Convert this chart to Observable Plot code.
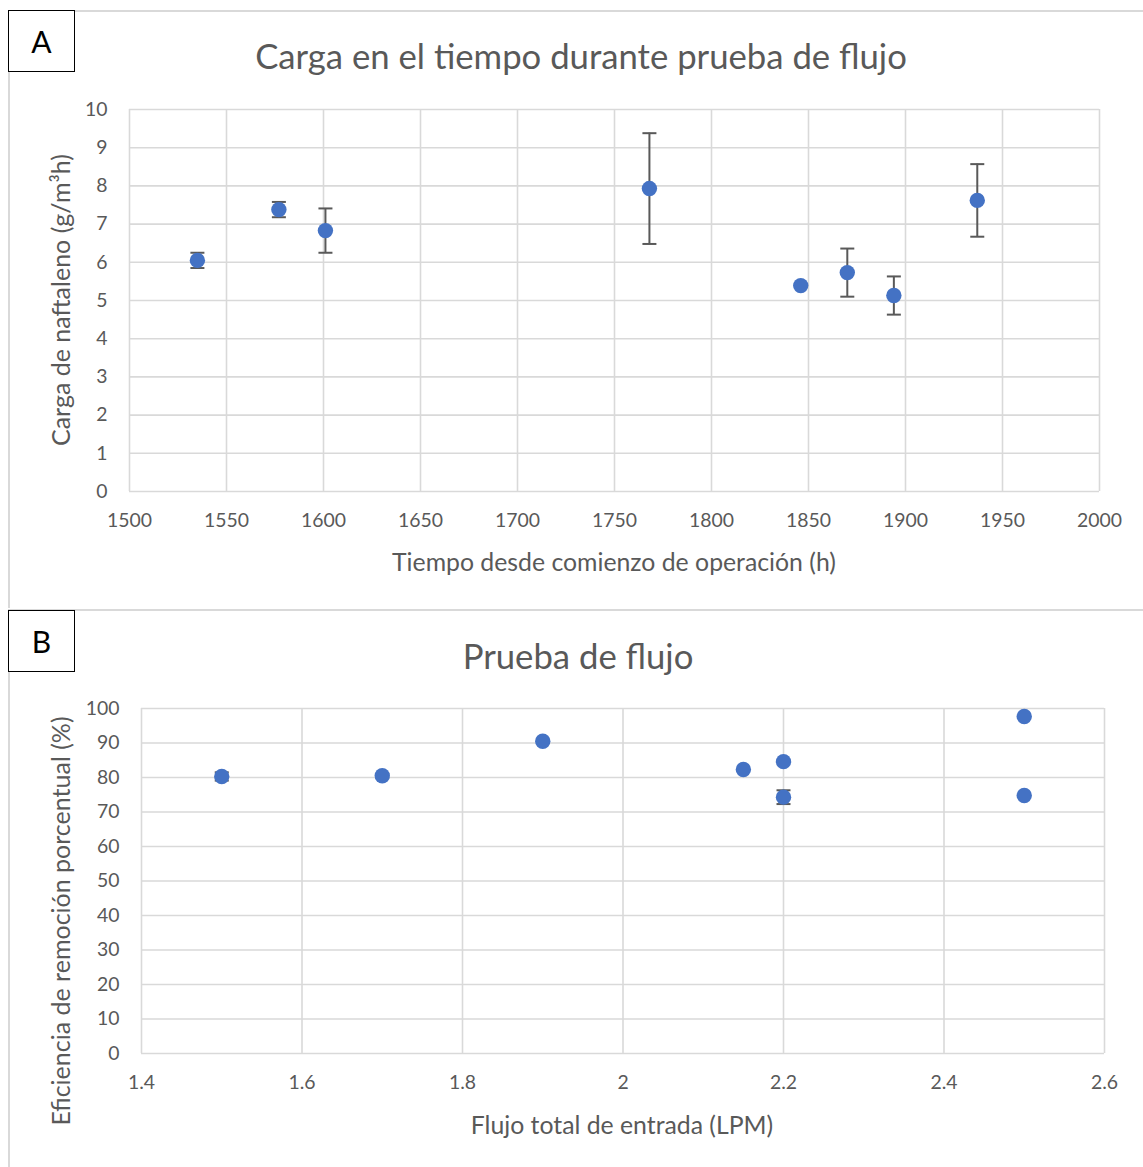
<!DOCTYPE html>
<html><head><meta charset="utf-8">
<script src="https://cdn.jsdelivr.net/npm/d3@7"></script>
<script src="https://cdn.jsdelivr.net/npm/@observablehq/plot@0.6"></script>
<style>
body{margin:0;background:#fff;}
#wrap{position:relative;width:1143px;height:1167px;overflow:hidden;font-family:Lato,"Open Sans",sans-serif;color:#595959;background:#fff;}
.frame{position:absolute;border-left:2px solid #d9d9d9;border-top:2px solid #d9d9d9;box-sizing:border-box;}
.letter{position:absolute;border:1.3px solid #000;background:#fff;color:#000;font-size:30px;display:flex;align-items:center;justify-content:center;box-sizing:border-box;}
.title{position:absolute;font-size:34.7px;white-space:nowrap;transform:translate(-50%,-50%);}
.axt{position:absolute;font-size:24.8px;white-space:nowrap;transform:translate(-50%,-50%);}
.axy{position:absolute;font-size:25px;white-space:nowrap;transform:translate(-50%,-50%) rotate(-90deg);}
svg{position:absolute;}
</style></head><body><div id="wrap"></div>
<script>
// Panel A data
const timeH = [1535, 1577, 1601, 1768, 1846, 1870, 1894, 1937];
const carga = [6.05, 7.38, 6.83, 7.93, 5.39, 5.73, 5.13, 7.62];
const cargaErr = [0.2, 0.2, 0.58, 1.45, 0, 0.63, 0.5, 0.95];
const xTicksA = [1500, 1550, 1600, 1650, 1700, 1750, 1800, 1850, 1900, 1950, 2000];
const yTicksA = [0, 1, 2, 3, 4, 5, 6, 7, 8, 9, 10];
// Panel B data
const flujo = [1.5, 1.7, 1.9, 2.15, 2.2, 2.2, 2.5, 2.5];
const eficiencia = [80.3, 80.5, 90.5, 82.3, 84.6, 74.3, 97.7, 74.8];
const eficienciaErr = [1.2, 0.5, 0, 0, 0, 2, 0, 0];
const xTicksB = [1.4, 1.6, 1.8, 2.0, 2.2, 2.4, 2.6];
const yTicksB = [0, 10, 20, 30, 40, 50, 60, 70, 80, 90, 100];

const wrap = document.getElementById("wrap");
const grid = "#d9d9d9", blue = "#4472C4", err = "#595959";
const cap = {draw(ctx, size) { const h = Math.sqrt(size / Math.PI); ctx.moveTo(-h, 0); ctx.lineTo(h, 0); }};

function el(cls, txt, x, y, w, h) {
  const d = document.createElement("div");
  d.className = cls; d.textContent = txt;
  d.style.left = x + "px"; d.style.top = y + "px";
  if (w != null) { d.style.width = w + "px"; d.style.height = h + "px"; }
  wrap.appendChild(d); return d;
}

// frames
el("frame", "", 8, 10, 1140, 598);
el("frame", "", 8, 609, 1140, 560);

function panel(cfg) {
  const rows = cfg.x.map((x, i) => ({x, y: cfg.y[i], e: cfg.e[i]}));
  const eb = rows.filter(d => d.e > 0);
  const fmt = cfg.fmt;
  const p = Plot.plot({
    width: 1143, height: cfg.height,
    marginTop: cfg.mt, marginBottom: cfg.mb, marginLeft: cfg.ml, marginRight: cfg.mr,
    style: {fontFamily: "Lato, 'Open Sans', sans-serif", fontSize: "19.4px", color: "#595959", background: "transparent"},
    x: {domain: cfg.xd, ticks: cfg.xt, tickFormat: fmt, label: null},
    y: {domain: cfg.yd, ticks: cfg.yt, label: null},
    marks: [
      Plot.gridX(cfg.xt, {stroke: grid, strokeOpacity: 1, strokeWidth: 1.6}),
      Plot.gridY(cfg.yt, {stroke: grid, strokeOpacity: 1, strokeWidth: 1.6}),
      Plot.axisX(cfg.xt, {tickSize: 0, tickPadding: 22, tickFormat: fmt, label: null, fill: "#595959"}),
      Plot.axisY(cfg.yt, {tickSize: 0, tickPadding: 22, label: null, fill: "#595959"}),
      Plot.ruleX(eb, {x: "x", y1: d => d.y - d.e, y2: d => d.y + d.e, stroke: err, strokeWidth: 2}),
      Plot.dot(eb, {x: "x", y: d => d.y - d.e, symbol: cap, r: 7, stroke: err, strokeWidth: 2, fill: "none"}),
      Plot.dot(eb, {x: "x", y: d => d.y + d.e, symbol: cap, r: 7, stroke: err, strokeWidth: 2, fill: "none"}),
      Plot.dot(rows, {x: "x", y: "y", r: 7.7, fill: blue, stroke: "none"})
    ]
  });
  p.style.left = "0px"; p.style.top = cfg.top + "px";
  wrap.appendChild(p);
}

panel({x: timeH, y: carga, e: cargaErr, xd: [1500, 2000], yd: [0, 10], xt: xTicksA, yt: yTicksA,
  top: 90, height: 500, mt: 19, mb: 99, ml: 129, mr: 44, fmt: d => String(d)});
panel({x: flujo, y: eficiencia, e: eficienciaErr, xd: [1.4, 2.6], yd: [0, 100], xt: xTicksB, yt: yTicksB,
  top: 690, height: 470, mt: 18, mb: 107, ml: 141, mr: 39, fmt: d => String(+d.toFixed(1))});

// text
el("title", "Carga en el tiempo durante prueba de flujo", 581, 55);
el("title", "Prueba de flujo", 578, 655);
el("axt", "Tiempo desde comienzo de operación (h)", 614, 561);
el("axt", "Flujo total de entrada (LPM)", 622, 1124);
el("axy", "Carga de naftaleno (g/m³h)", 60, 300);
el("axy", "Eficiencia de remoción porcentual (%)", 60, 921);
el("letter", "A", 8, 10, 67, 62);
el("letter", "B", 8, 610, 67, 62);
</script></body></html>
